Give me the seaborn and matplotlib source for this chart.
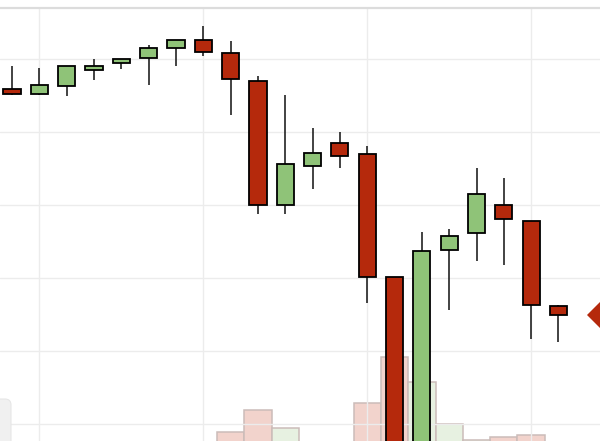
import matplotlib
matplotlib.use("Agg")
import matplotlib.pyplot as plt
from matplotlib.patches import FancyBboxPatch
import seaborn as sns
import pandas as pd

# OHLC values (arbitrary price units)
opens = [95.9, 95.2, 96.3, 98.5, 99.45, 100.1, 101.5, 102.6, 100.8, 97.05,
         80.0, 85.3, 88.5, 87.0, 70.15, 43.7, 73.85, 76.15, 80.0, 77.8, 66.15]
highs = [99.05, 98.8, 99.05, 100.0, 99.95, 101.9, 102.6, 104.5, 102.45, 97.65,
         95.05, 90.55, 90.0, 88.1, 70.15, 76.3, 76.7, 85.05, 83.7, 77.8, 66.3]
lows = [95.05, 95.05, 94.95, 97.1, 98.65, 96.45, 99.05, 100.4, 92.35, 78.75,
        78.75, 82.2, 85.05, 66.6, 40.0, 40.0, 65.6, 72.35, 71.8, 61.65, 61.25]
closes = [95.2, 96.45, 99.05, 99.1, 99.95, 101.5, 102.6, 100.95, 97.25, 80.0,
          85.6, 87.1, 86.7, 70.15, 42.3, 73.7, 75.75, 81.5, 78.1, 66.3, 64.95]
volumes = [180, 200, 170, 150, 140, 210, 190, 260, 380, 600,
           420, 220, 200, 670, 1130, 880, 460, 300, 330, 350, 160]

RED = "#b5290c"
GREEN = "#8fc378"

idx = list(range(len(opens)))
direction = ["up" if c >= o else "down" for o, c in zip(opens, closes)]
vol_df = pd.DataFrame({"idx": idx, "volume": volumes, "dir": direction})

sns.set_theme(style="white")
fig = plt.figure(figsize=(6, 4.41), dpi=100)
ax = fig.add_axes([0, 0, 1, 433 / 441])
ax_vol = ax.twinx()
ax.set_zorder(1)
ax_vol.set_zorder(0)
ax.patch.set_visible(False)

# volume bars in the background
sns.barplot(data=vol_df, x="idx", y="volume", hue="dir", dodge=False,
            palette={"up": "#e7f1e1", "down": "#f2d3cc"}, native_scale=True,
            width=1, saturation=1, edgecolor="#cbbcb9", linewidth=1.1,
            legend=False, ax=ax_vol)
ax_vol.set_ylim(290, 4620)
ax_vol.set_yticks([])
ax_vol.set_ylabel("")
for s in ax_vol.spines.values():
    s.set_visible(False)

# candles
colors = [GREEN if d == "up" else RED for d in direction]
ax.vlines(idx, lows, highs, color="#222222", linewidth=1.2, zorder=2)
bottoms = [min(o, c) for o, c in zip(opens, closes)]
heights = [abs(c - o) for o, c in zip(opens, closes)]
ax.bar(idx, heights, bottom=bottoms, width=0.63, color=colors,
       edgecolor="black", linewidth=1.3, zorder=3)

xmax = 21.52
ax.set_xlim(-0.44, xmax)
ax.set_ylim(47.67, 106.99)
ax.set_xticks([1, 7, 13, 19])
ax.set_yticks([50, 60, 70, 80, 90, 100])
ax.tick_params(length=0, labelleft=False, labelbottom=False,
               labelright=False, labeltop=False)
ax.set_xlabel("")
ax.set_ylabel("")
ax.grid(True, color="#ececec", linewidth=1)
ax.set_axisbelow(True)
for name, s in ax.spines.items():
    s.set_visible(name == "top")
ax.spines["top"].set_color("#dcdcdc")
ax.spines["top"].set_linewidth(1.6)

# last price marker on the right edge
ax.plot([xmax], [closes[-1]], marker="D", markersize=13, color=RED,
        markeredgewidth=0, clip_on=True, zorder=4)

# rounded grey box at lower left
box = FancyBboxPatch((-0.1, -0.09), 0.21, 0.51,
                     boxstyle="round,pad=0,rounding_size=0.06",
                     transform=fig.dpi_scale_trans, facecolor="#f0f0f0",
                     edgecolor="#e6e6e6", linewidth=0.8, zorder=10)
fig.add_artist(box)

fig.savefig("out.png", dpi=100, facecolor="white")
